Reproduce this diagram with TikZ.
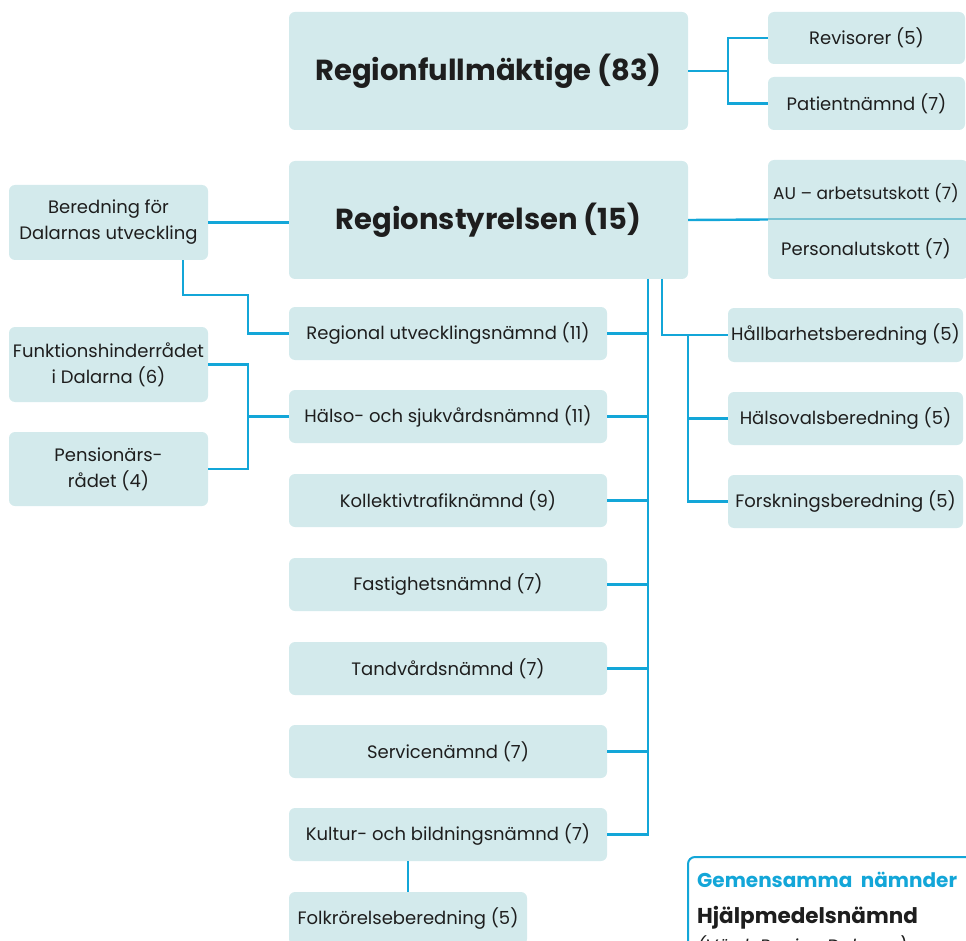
\documentclass[tikz,border=0pt]{standalone}
\usepackage{fontspec}
\setmainfont{Poppins}
\usetikzlibrary{calc}
\definecolor{boxfill}{HTML}{D3EAEC}
\definecolor{lineblue}{HTML}{13A6D8}
\definecolor{divline}{HTML}{79C3D3}
\definecolor{txt}{HTML}{1E1E1E}
\tikzset{
  box/.style={fill=boxfill, rounded corners=6pt, inner sep=0pt, align=center, text=txt, font=\fontsize{18}{26}\selectfont},
  bigbox/.style={box, font=\fontsize{29}{34}\selectfont\bfseries},
  conn/.style={draw=lineblue, line width=2.4pt},
}
\begin{document}
\begin{tikzpicture}[x=1pt,y=-1pt]
\useasboundingbox (0,0) rectangle (966,941);
\clip (0,0) rectangle (966,941);
% top level
\node[bigbox, minimum width=399pt, minimum height=118pt] (rf) at (488.5,71) {Regionfullmäktige (83)};
\node[box, minimum width=197pt, minimum height=52pt] (rev) at (866.5,38) {Revisorer (5)};
\node[box, minimum width=197pt, minimum height=53pt] (pat) at (866.5,103.5) {Patientnämnd (7)};
\node[bigbox, minimum width=399pt, minimum height=118pt] (rs) at (488.5,220) {Regionstyrelsen (15)};
\node[box, minimum width=200pt, minimum height=119pt] (au) at (868,219.5) {};
\node[box, fill=none, font=\fontsize{17}{20}\selectfont] (autxt) at (866,193) {AU – arbetsutskott (7)};
\node[box, fill=none] (pertxt) at (866,249) {Personalutskott (7)};
% left
\node[box, minimum width=199pt, minimum height=75pt] (bfd) at (108.5,222.5) {Beredning för\\Dalarnas utveckling};
\node[box, minimum width=199pt, minimum height=75pt] (fun) at (108.5,364.5) {Funktionshinderrådet\\i Dalarna (6)};
\node[box, minimum width=199pt, minimum height=74pt] (pen) at (108.5,469) {Pensionärs-\\rådet (4)};
% middle column
\node[box, minimum width=318pt, minimum height=53pt] (reg) at (448,333.5) {Regional utvecklingsnämnd (11)};
\node[box, minimum width=318pt, minimum height=53pt] (hsn) at (448,416.5) {Hälso- och sjukvårdsnämnd (11)};
\node[box, minimum width=318pt, minimum height=53pt] (kol) at (448,500.5) {Kollektivtrafiknämnd (9)};
\node[box, minimum width=318pt, minimum height=53pt] (fas) at (448,584.5) {Fastighetsnämnd (7)};
\node[box, minimum width=318pt, minimum height=53pt] (tan) at (448,668.5) {Tandvårdsnämnd (7)};
\node[box, minimum width=318pt, minimum height=53pt] (ser) at (448,751.5) {Servicenämnd (7)};
\node[box, minimum width=318pt, minimum height=53pt] (kul) at (448,834.5) {Kultur- och bildningsnämnd (7)};
\node[box, minimum width=238pt, minimum height=53pt] (folk) at (408,918.5) {Folkrörelseberedning (5)};
% right column
\node[box, minimum width=235pt, minimum height=54pt] (hall) at (845.5,335) {Hållbarhetsberedning (5)};
\node[box, minimum width=235pt, minimum height=53pt] (hals) at (845.5,418.5) {Hälsovalsberedning (5)};
\node[box, minimum width=235pt, minimum height=53pt] (fors) at (845.5,501.5) {Forskningsberedning (5)};
% gemensamma
\draw[lineblue, line width=2pt, rounded corners=7pt] (688,857) rectangle (990,990);
\node[anchor=west, inner sep=0pt, text=lineblue, font=\fontsize{20}{24}\selectfont\bfseries] (gem) at (697,880) {Gemensamma\ \ nämnder};
\node[anchor=west, inner sep=0pt, text=txt, font=\fontsize{21.5}{24}\selectfont\bfseries] (hjm) at (697,918) {Hjälpmedelsnämnd};
\node[anchor=west, inner sep=0pt, text=txt, font=\fontsize{18}{22}\selectfont\itshape] (vard) at (697,947) {(Värd: Region Dalarna)};
% connectors
\coordinate (jr) at ($(rf.east)+(40pt,0)$);
\draw[conn] (rf.east) -- (jr);
\draw[conn] (rev.west) -| (jr) |- (pat.west);
\draw[conn] (rs.east) -- (au.west);
\draw[divline, line width=2pt] (au.west) -- (au.east);
\draw[conn] (bfd.east) -- (bfd.east -| rs.west);
\coordinate (j1) at (248,295);
\draw[conn] ([xshift=-25pt]bfd.south east) |- (j1) |- (reg.west);
\coordinate (j2) at (248,416.5);
\draw[conn] (fun.east) -- (fun.east -| j2) -- (pen.east -| j2) -- (pen.east);
\draw[conn] (j2) -- (hsn.west);
\coordinate (bus) at (648,279);
\draw[conn] (bus) -- (kul.east -| bus) -- (kul.east);
\foreach \n in {reg,hsn,kol,fas,tan,ser} {\draw[conn] (\n.east) -- (\n.east -| bus);}
\coordinate (bus2) at (662,279);
\coordinate (j3) at (688,335);
\draw[conn] (bus2) |- (hall.west);
\draw[conn] (j3) |- (fors.west);
\draw[conn] (hals.west) -- (hals.west -| j3);
\draw[conn] (folk.north) -- (folk.north |- kul.south);
\end{tikzpicture}
\end{document}
